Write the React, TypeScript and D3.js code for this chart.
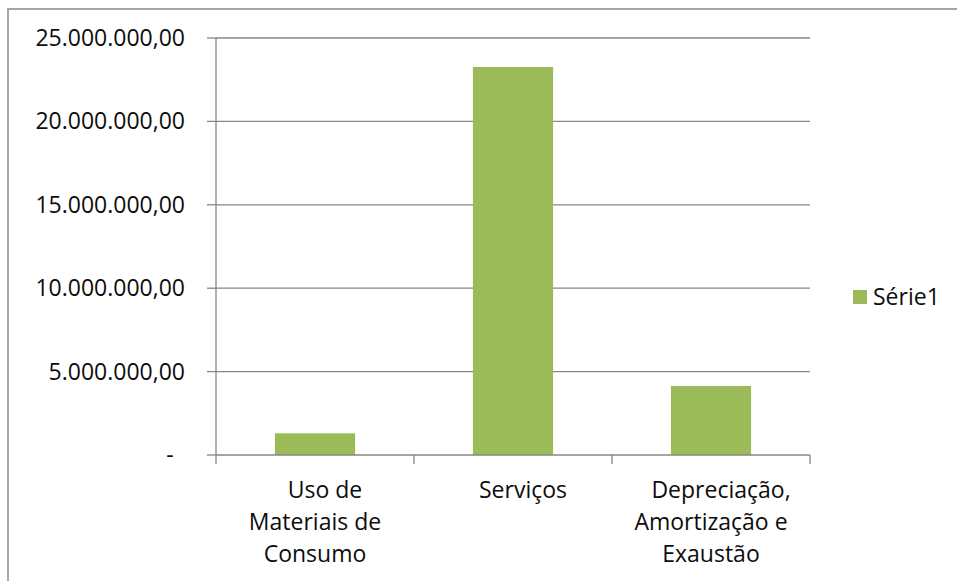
import React from "react";
import * as d3 from "d3";

const categories = ["Uso de Materiais de Consumo", "Serviços", "Depreciação, Amortização e Exaustão"];
const categoryLines = [
  ["Uso de", "Materiais de", "Consumo"],
  ["Serviços"],
  ["Depreciação,", "Amortização e", "Exaustão"],
];
const serie1 = [1300000, 23260000, 4140000];
const yTicks = [0, 5000000, 10000000, 15000000, 20000000, 25000000];
const seriesName = "Série1";

const width = 957;
const height = 581;
const margin = { top: 38, right: 147, bottom: 126, left: 216 };
const barColor = "#9BBB59";
const gridColor = "#868686";
const textColor = "#0d0d0d";
const fontFamily = "'Open Sans', 'Noto Sans', sans-serif";
const fontSize = 23;

const ptBR = d3.formatLocale({
  decimal: ",",
  thousands: ".",
  grouping: [3],
  currency: ["R$", ""],
});
const fmt = ptBR.format(",.2f");

export default function App() {
  const x = d3
    .scaleBand<string>()
    .domain(categories)
    .range([margin.left, width - margin.right])
    .padding(0);
  const y = d3
    .scaleLinear()
    .domain([0, 25000000])
    .range([height - margin.bottom, margin.top]);

  const barW = x.bandwidth() * 0.405;
  const [x0, x1] = x.range();
  const y0 = y(0);
  const boundaries = categories.map((c) => x(c) as number).concat([x1]);

  return (
    <svg
      width={width}
      height={height}
      style={{ position: "absolute", left: 0, top: 0, background: "#fff" }}
      fontFamily={fontFamily}
    >
      {/* chart border */}
      <rect x={8} y={9} width={width + 20} height={height + 20} fill="#fff" stroke="#a6a6a6" strokeWidth={2} />

      {/* gridlines + y ticks */}
      {yTicks.map((t) => (
        <g key={t}>
          {t > 0 && (
            <line x1={x0} x2={x1} y1={y(t)} y2={y(t)} stroke={gridColor} strokeWidth={1.3} />
          )}
          <line x1={x0 - 9} x2={x0} y1={y(t)} y2={y(t)} stroke={gridColor} strokeWidth={1.3} />
          <text
            x={t === 0 ? 170 : 185}
            y={y(t)}
            dy="0.35em"
            textAnchor={t === 0 ? "middle" : "end"}
            fontSize={fontSize}
            fill={textColor}
          >
            {t === 0 ? "-" : fmt(t)}
          </text>
        </g>
      ))}

      {/* bars */}
      {categories.map((c, i) => (
        <rect
          key={c}
          x={(x(c) as number) + (x.bandwidth() - barW) / 2}
          y={y(serie1[i])}
          width={barW}
          height={y0 - y(serie1[i])}
          fill={barColor}
        />
      ))}

      {/* axes */}
      <line x1={x0} x2={x0} y1={y(25000000)} y2={y0} stroke={gridColor} strokeWidth={1.3} />
      <line x1={x0} x2={x1} y1={y0} y2={y0} stroke={gridColor} strokeWidth={1.3} />
      {boundaries.map((b, i) => (
        <line key={i} x1={b} x2={b} y1={y0} y2={y0 + 9} stroke={gridColor} strokeWidth={1.3} />
      ))}

      {/* category labels */}
      {categories.map((c, i) => (
        <text key={c} textAnchor="middle" fontSize={fontSize} fill={textColor}>
          {categoryLines[i].map((line, j) => (
            <tspan key={j} x={(x(c) as number) + x.bandwidth() / 2} dx={j === 0 ? 10 : 0} y={y0 + 43 + j * 32}>
              {line}
            </tspan>
          ))}
        </text>
      ))}

      {/* legend */}
      <rect x={853} y={290} width={14} height={14} fill={barColor} />
      <text x={873} y={297} dy="0.35em" fontSize={fontSize} fill={textColor}>
        {seriesName}
      </text>
    </svg>
  );
}
